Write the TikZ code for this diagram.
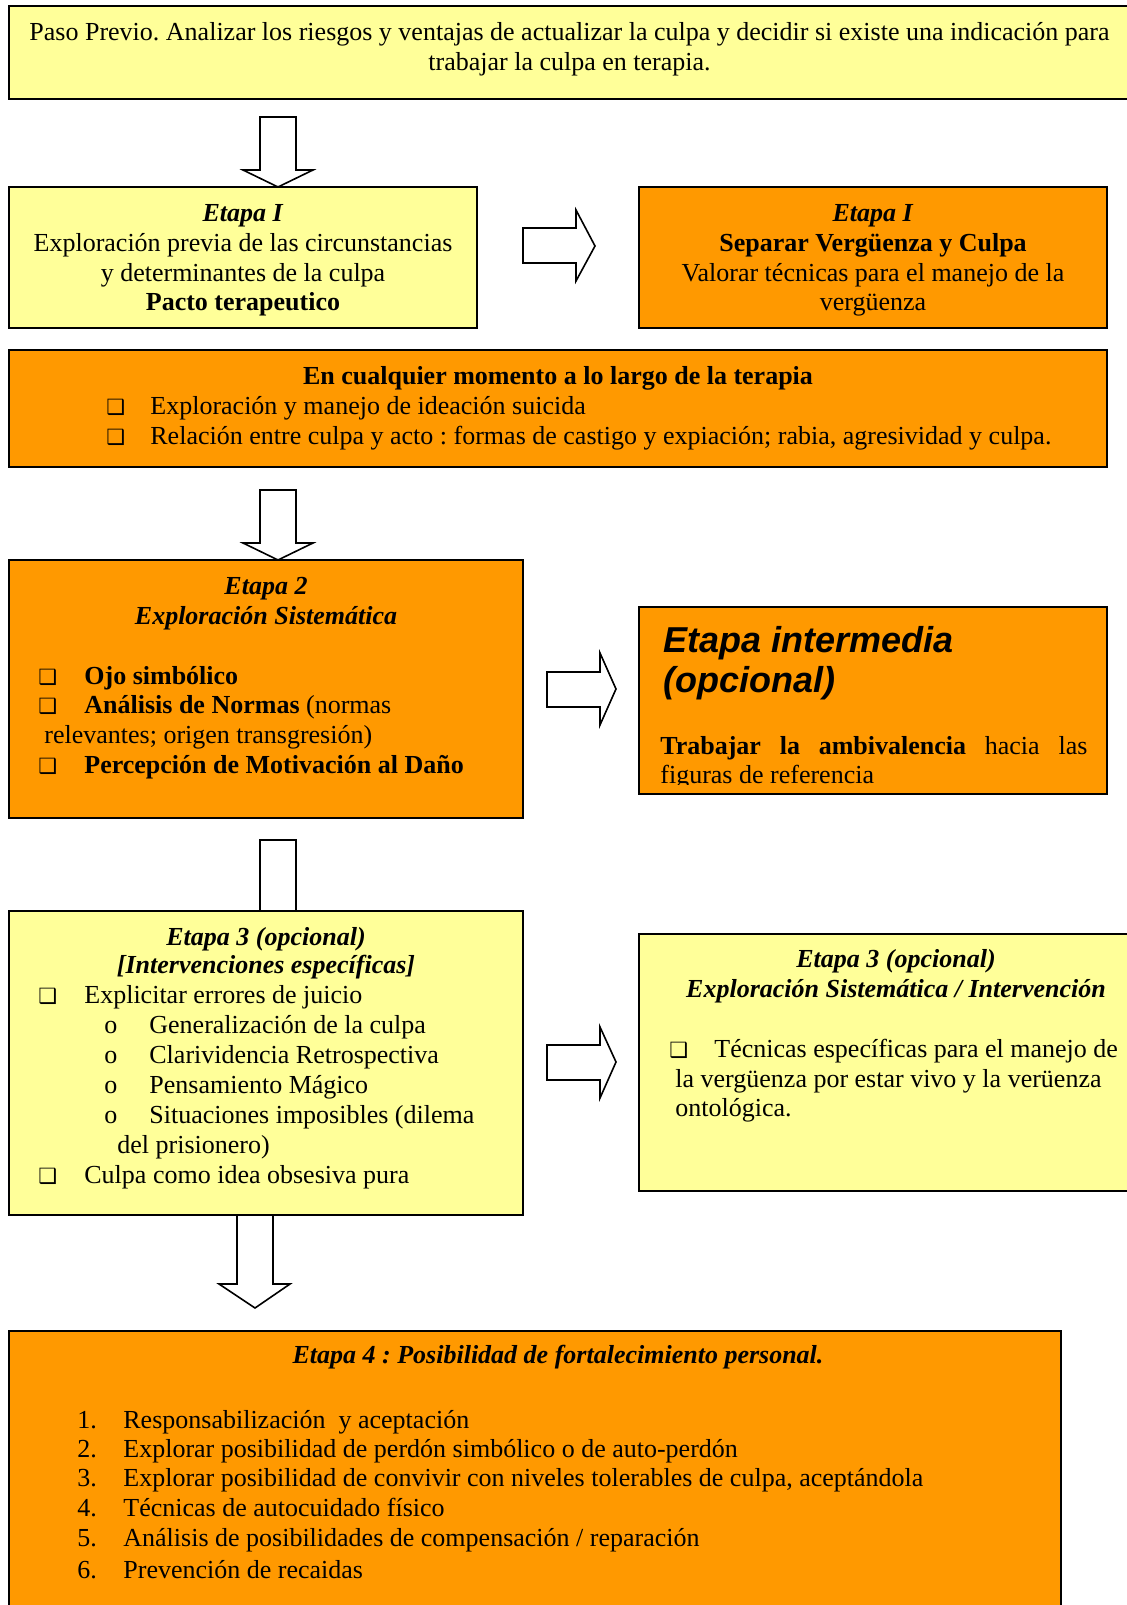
\documentclass[tikz,border=0pt]{standalone}
\usepackage{fontspec}
\setmainfont{Liberation Serif}
\newfontfamily\sansf{Liberation Sans}
\newfontfamily\symf{DejaVu Sans}
\usetikzlibrary{fit}
\frenchspacing
\definecolor{boxyellow}{HTML}{FFFF99}
\definecolor{boxorange}{HTML}{FF9900}
\newcommand\cbx{{\symf\fontsize{10.5}{10.5}\selectfont ❑}}
\newcommand\bi[1]{\textbf{\textit{#1}}}
\tikzset{
  ybox/.style={draw=black, line width=1pt, fill=boxyellow, inner sep=0pt},
  obox/.style={draw=black, line width=1pt, fill=boxorange, inner sep=0pt},
  blockarrow/.style={draw=black, line width=0.8pt, fill=white, line join=miter},
  txt/.style={inner sep=0pt, anchor=base, font=\fontsize{13}{15}\selectfont},
  txtl/.style={txt, anchor=base west},
  bigsans/.style={inner sep=0pt, anchor=base west, font=\sansf\fontsize{18}{20}\selectfont\bfseries\itshape},
}
\begin{document}
\begin{tikzpicture}[x=0.5pt,y=-0.5pt]
\useasboundingbox (0,0) rectangle (1126,1605);
\fill[white] (0,0) rectangle (1126,1605);

% block arrows (drawn first, boxes cover their ends)
\draw[blockarrow] (260,117) -- (296,117) -- (296,170) -- (313,170) -- (278,187) -- (243,170) -- (260,170) -- cycle;
\draw[blockarrow] (523,228) -- (576,228) -- (576,210) -- (595,246) -- (576,281) -- (576,263) -- (523,263) -- cycle;
\draw[blockarrow] (260,490) -- (296,490) -- (296,543) -- (313,543) -- (278,560) -- (243,543) -- (260,543) -- cycle;
\draw[blockarrow] (547,672) -- (600,672) -- (600,653) -- (616,689) -- (600,725) -- (600,707) -- (547,707) -- cycle;
\draw[blockarrow] (260,840) -- (296,840) -- (296,930) -- (313,930) -- (278,947) -- (243,930) -- (260,930) -- cycle;
\draw[blockarrow] (547,1045) -- (600,1045) -- (600,1027) -- (616,1062) -- (600,1098) -- (600,1080) -- (547,1080) -- cycle;
\draw[blockarrow] (237,1215) -- (273,1215) -- (273,1284) -- (290,1284) -- (255,1308) -- (219,1284) -- (237,1284) -- cycle;

% boxes
\node[ybox, fit={(9,6) (1130,99)}] (paso) {};
\node[ybox, fit={(9,187) (477,328)}] (e1a) {};
\node[obox, fit={(639,187) (1107,328)}] (e1b) {};
\node[obox, fit={(9,350) (1107,467)}] (cual) {};
\node[obox, fit={(9,560) (523,818)}] (e2) {};
\node[obox, fit={(639,607) (1107,794)}] (inter) {};
\node[ybox, fit={(9,911) (523,1215)}] (e3a) {};
\node[ybox, fit={(639,934) (1153,1191)}] (e3b) {};
\node[obox, fit={(9,1331) (1061,1640)}] (e4) {};

% Paso previo
\node[txt] (pp1) at (569.5,41) {Paso Previo. Analizar los riesgos y ventajas de actualizar la culpa y decidir si existe una indicación para};
\node[txt] (pp2) at (569.5,71) {trabajar la culpa en terapia.};

% Etapa I (left)
\node[txt] (e1a1) at (243,222) {\bi{Etapa I}};
\node[txt] (e1a2) at (243,251) {Exploración previa de las circunstancias};
\node[txt] (e1a3) at (243,281) {y determinantes de la culpa};
\node[txt] (e1a4) at (243,310) {\textbf{Pacto terapeutico}};

% Etapa I (right)
\node[txt] (e1b1) at (873,222) {\bi{Etapa I}};
\node[txt] (e1b2) at (873,251) {\textbf{Separar Vergüenza y Culpa}};
\node[txt] (e1b3) at (873,281) {Valorar técnicas para el manejo de la};
\node[txt] (e1b4) at (873,310) {vergüenza};

% En cualquier momento
\node[txt] (c1) at (558,384) {\textbf{En cualquier momento a lo largo de la terapia}};
\node[txtl] (c2b) at (106,414) {\cbx};
\node[txtl] (c2) at (150,414) {Exploración y manejo de ideación suicida};
\node[txtl] (c3b) at (106,444) {\cbx};
\node[txtl] (c3) at (150,444) {Relación entre culpa y acto : formas de castigo y expiación; rabia, agresividad y culpa.};

% Etapa 2
\node[txt] (e21) at (266,594) {\bi{Etapa 2}};
\node[txt] (e22) at (266,624) {\bi{Exploración Sistemática}};
\node[txtl] (e23b) at (38,684) {\cbx};
\node[txtl] (e23) at (84,684) {\textbf{Ojo simbólico}};
\node[txtl] (e24b) at (38,713) {\cbx};
\node[txtl] (e24) at (84,713) {\textbf{Análisis de Normas} (normas};
\node[txtl] (e25) at (44,743) {relevantes; origen transgresión)};
\node[txtl] (e26b) at (38,773) {\cbx};
\node[txtl] (e26) at (84,773) {\textbf{Percepción de Motivación al Daño}};

% Etapa intermedia
\begin{scope}
\clip (639,607) rectangle (1107,784);
\node[bigsans] (in1) at (663,652) {Etapa intermedia};
\node[bigsans] (in2) at (663,692) {(opcional)};
\node[txtl] (in3) at (660,754) {\makebox[213.5pt][s]{\textbf{Trabajar la ambivalencia} hacia las}};
\node[txtl] (in4) at (660,783) {figuras de referencia};
\end{scope}

% Etapa 3 (left)
\node[txt] (e3a1) at (266,945) {\bi{Etapa 3 (opcional)}};
\node[txt] (e3a2) at (266,973) {\bi{[Intervenciones específicas]}};
\node[txtl] (e3a3b) at (38,1003) {\cbx};
\node[txtl] (e3a3) at (84,1003) {Explicitar errores de juicio};
\node[txtl] (e3a4b) at (104,1033) {o};
\node[txtl] (e3a4) at (149,1033) {Generalización de la culpa};
\node[txtl] (e3a5b) at (104,1063) {o};
\node[txtl] (e3a5) at (149,1063) {Clarividencia Retrospectiva};
\node[txtl] (e3a6b) at (104,1093) {o};
\node[txtl] (e3a6) at (149,1093) {Pensamiento Mágico};
\node[txtl] (e3a7b) at (104,1123) {o};
\node[txtl] (e3a7) at (149,1123) {Situaciones imposibles (dilema};
\node[txtl] (e3a8) at (117,1153) {del prisionero)};
\node[txtl] (e3a9b) at (38,1183) {\cbx};
\node[txtl] (e3a9) at (84,1183) {Culpa como idea obsesiva pura};

% Etapa 3 (right)
\node[txt] (e3b1) at (896,967) {\bi{Etapa 3 (opcional)}};
\node[txt] (e3b2) at (896,997) {\bi{Exploración Sistemática / Intervención}};
\node[txtl] (e3b3b) at (669,1057) {\cbx};
\node[txtl] (e3b3) at (714,1057) {Técnicas específicas para el manejo de};
\node[txtl] (e3b4) at (675,1087) {la vergüenza por estar vivo y la verüenza};
\node[txtl] (e3b5) at (675,1116) {ontológica.};

% Etapa 4
\node[txt] (e41) at (558,1363) {\bi{Etapa 4 : Posibilidad de fortalecimiento personal.}};
\foreach \n/\yy/\t in {1/1428/{Responsabilización\ \ y aceptación},
                       2/1457/{Explorar posibilidad de perdón simbólico o de auto-perdón},
                       3/1486/{Explorar posibilidad de convivir con niveles tolerables de culpa, aceptándola},
                       4/1516/{Técnicas de autocuidado físico},
                       5/1546/{Análisis de posibilidades de compensación / reparación},
                       6/1578/{Prevención de recaidas}}{
  \node[txtl] (e4n\n) at (77,\yy) {\n.};
  \node[txtl] (e4t\n) at (123,\yy) {\t};
}
\end{tikzpicture}
\end{document}
